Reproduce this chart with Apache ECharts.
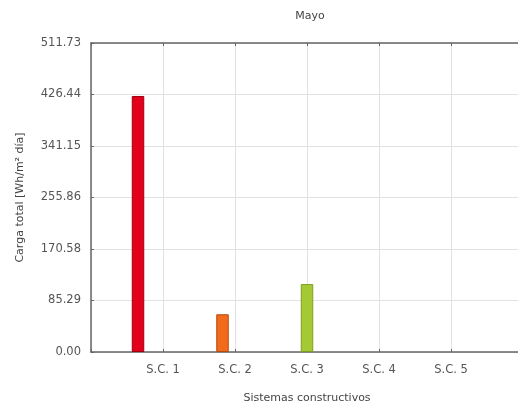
<!DOCTYPE html>
<html>
<head>
<meta charset="utf-8">
<script src="https://cdn.jsdelivr.net/npm/echarts@6/dist/echarts.min.js"></script>
<style>
  html, body { margin: 0; padding: 0; background: #fff; overflow: hidden; }
  /* el grafico original esta recortado por la derecha */
  #chart { width: 540px; height: 409px; }
</style>
</head>
<body>
<div id="chart"></div>
<script>
  // categorias (con huecos en los extremos para que el eje empiece en 0)
  var categorias = ['', 'S.C. 1', 'S.C. 2', 'S.C. 3', 'S.C. 4', 'S.C. 5', ''];
  var nombresSerie = ['S.C. 1', 'S.C. 2', 'S.C. 3', 'S.C. 4', 'S.C. 5'];
  var cargaMayo = [424, 62.5, 112.5, 0, 0];
  var coloresBarra = ['#e2001a', '#f26a1b', '#a5c835', '#4f81bd', '#8064a2'];
  var bordesBarra = ['#9c0010', '#b84a0c', '#7f9e20', '#385d8a', '#5c4776'];
  var etiquetasY = ['0.00', '85.29', '170.58', '255.86', '341.15', '426.44', '511.73'];
  var maxY = 511.73;

  var paso = maxY / 6;
  var fuente = 'DejaVu Sans';

  var series = [];
  for (var i = 0; i < nombresSerie.length; i++) {
    var datos = [];
    for (var j = 0; j < categorias.length; j++) datos.push('-');
    if (cargaMayo[i] > 0) datos[i + 1] = cargaMayo[i];
    series.push({
      name: nombresSerie[i],
      type: 'bar',
      data: datos,
      barWidth: 12.5,
      barGap: '0%',
      itemStyle: { color: coloresBarra[i], borderColor: bordesBarra[i], borderWidth: 1 }
    });
  }

  var chart = echarts.init(document.getElementById('chart'));
  var option = {
    animation: false,
    backgroundColor: '#fff',
    title: {
      text: 'Mayo',
      left: 305,
      top: 6,
      textAlign: 'center',
      textStyle: { fontFamily: fuente, fontSize: 11, fontWeight: 'normal', color: '#444' }
    },
    // el eje x va de 0 a 6; la parte derecha queda fuera de la ventana
    grid: { left: 91, width: 432, top: 43, bottom: 52, containLabel: false },
    xAxis: [{
      type: 'category',
      data: categorias,
      boundaryGap: false,
      position: 'bottom',
      name: 'Sistemas constructivos',
      nameLocation: 'middle',
      nameGap: 41,
      nameTextStyle: { fontFamily: fuente, fontSize: 11, color: '#444' },
      axisLine: { lineStyle: { color: '#666', width: 1.5 } },
      axisTick: { show: true, inside: true, length: 3, interval: 0, lineStyle: { color: '#666' } },
      axisLabel: { interval: 0, margin: 12, fontFamily: fuente, fontSize: 11.5, color: '#555' },
      splitLine: { show: true, interval: 0, lineStyle: { color: '#e2e2e2' } }
    }, {
      type: 'category',
      data: categorias,
      boundaryGap: false,
      position: 'top',
      axisLine: { lineStyle: { color: '#666', width: 1.5 } },
      axisTick: { show: true, inside: true, length: 3, interval: 0, lineStyle: { color: '#666' } },
      axisLabel: { show: false },
      splitLine: { show: false }
    }],
    yAxis: {
      type: 'value',
      min: 0,
      max: maxY,
      interval: paso,
      name: 'Carga total [Wh/m² día]',
      nameLocation: 'middle',
      nameGap: 65,
      nameTextStyle: { fontFamily: fuente, fontSize: 11, color: '#444' },
      axisLine: { show: true, lineStyle: { color: '#666', width: 1.5 } },
      axisTick: { show: true, inside: true, length: 3, lineStyle: { color: '#666' } },
      axisLabel: {
        margin: 10,
        fontFamily: fuente,
        fontSize: 11.5,
        color: '#555',
        formatter: function (v) { return etiquetasY[Math.round(v / paso)]; }
      },
      splitLine: { show: true, lineStyle: { color: '#e2e2e2' } }
    },
    series: series
  };
  chart.setOption(option);
</script>
</body>
</html>
